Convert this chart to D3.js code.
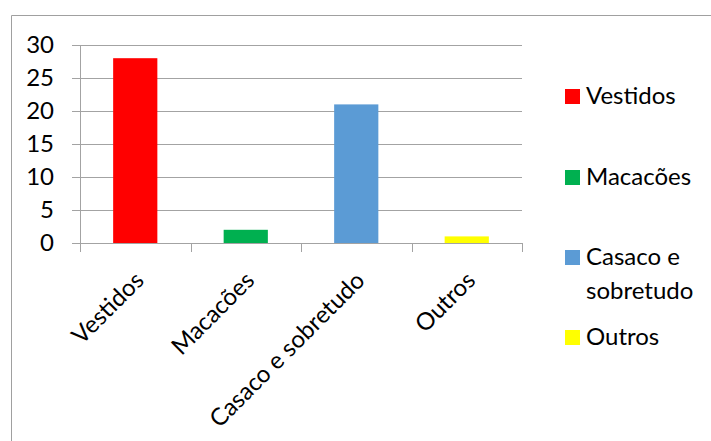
<!DOCTYPE html>
<html>
<head>
<meta charset="utf-8">
<script src="https://cdn.jsdelivr.net/npm/d3@7/dist/d3.min.js"></script>
<style>
  html, body { margin: 0; padding: 0; background: #fff; }
  svg { display: block; font-family: Lato, "Open Sans", sans-serif; }
</style>
</head>
<body>
<svg id="chart" width="711" height="441"></svg>
<script>
// Peças de roupa por categoria
const categories = ["Vestidos", "Macacões", "Casaco e sobretudo", "Outros"];
const values = [28, 2, 21, 1];
const colors = ["#ff0000", "#00b050", "#5b9bd5", "#ffff00"];
const yTicks = [0, 5, 10, 15, 20, 25, 30];
const legendLines = [["Vestidos"], ["Macacões"], ["Casaco e", "sobretudo"], ["Outros"]];

const svg = d3.select("#chart");
const plot = { left: 80, right: 522, top: 45, bottom: 243 };
const axisColor = "#a3a3a3";
const fontSize = 24;

// outer frame of the chart area
svg.append("path")
  .attr("d", "M11.5,441 V15.5 H711")
  .attr("fill", "none")
  .attr("stroke", "#a0a0a0")
  .attr("stroke-width", 1);

const x = d3.scaleBand().domain(categories).range([plot.left, plot.right])
  .paddingInner(0.6).paddingOuter(0.3);
const xTickScale = d3.scaleLinear().domain([0, categories.length]).range([plot.left, plot.right]);
const y = d3.scaleLinear().domain([0, 30]).range([plot.bottom, plot.top]);

// horizontal gridlines
svg.append("g")
  .selectAll("line")
  .data(yTicks)
  .join("line")
  .attr("x1", plot.left - 8)
  .attr("x2", plot.right)
  .attr("y1", d => Math.round(y(d)) + 0.5)
  .attr("y2", d => Math.round(y(d)) + 0.5)
  .attr("stroke", axisColor)
  .attr("stroke-width", 1);

// bars
svg.append("g")
  .selectAll("rect")
  .data(categories)
  .join("rect")
  .attr("x", d => x(d))
  .attr("width", x.bandwidth())
  .attr("y", (d, i) => y(values[i]))
  .attr("height", (d, i) => y(0) - y(values[i]))
  .attr("fill", (d, i) => colors[i]);

// y axis line
svg.append("line")
  .attr("x1", plot.left + 0.5).attr("x2", plot.left + 0.5)
  .attr("y1", plot.top).attr("y2", plot.bottom + 1)
  .attr("stroke", axisColor);

// y tick labels
svg.append("g")
  .selectAll("text")
  .data(yTicks)
  .join("text")
  .attr("x", 54)
  .attr("y", d => y(d))
  .attr("dy", "0.35em")
  .attr("text-anchor", "end")
  .attr("font-size", fontSize)
  .attr("fill", "#000")
  .text(d => d);

// x axis line and category tick marks
svg.append("line")
  .attr("x1", plot.left).attr("x2", plot.right + 1)
  .attr("y1", plot.bottom + 0.5).attr("y2", plot.bottom + 0.5)
  .attr("stroke", axisColor);
svg.append("g")
  .selectAll("line")
  .data(d3.range(categories.length + 1))
  .join("line")
  .attr("x1", d => Math.round(xTickScale(d)) + 0.5)
  .attr("x2", d => Math.round(xTickScale(d)) + 0.5)
  .attr("y1", plot.bottom)
  .attr("y2", plot.bottom + 9)
  .attr("stroke", axisColor);

// rotated category labels
svg.append("g")
  .selectAll("text")
  .data(categories)
  .join("text")
  .attr("transform", d => `translate(${x(d) + x.bandwidth() / 2 + 10},${plot.bottom + 39}) rotate(-45)`)
  .attr("text-anchor", "end")
  .attr("font-size", fontSize)
  .attr("fill", "#000")
  .text(d => d);

// legend
const legendTop = [89, 170, 250, 330];
const legend = svg.append("g");
categories.forEach((c, i) => {
  legend.append("rect")
    .attr("x", 565).attr("y", legendTop[i])
    .attr("width", 15).attr("height", 15)
    .attr("fill", colors[i]);
  const t = legend.append("text")
    .attr("x", 586).attr("y", legendTop[i] + 15)
    .attr("font-size", fontSize)
    .attr("fill", "#000");
  legendLines[i].forEach((line, j) => {
    t.append("tspan").attr("x", 586).attr("dy", j === 0 ? 0 : 34).text(line);
  });
});
</script>
</body>
</html>
